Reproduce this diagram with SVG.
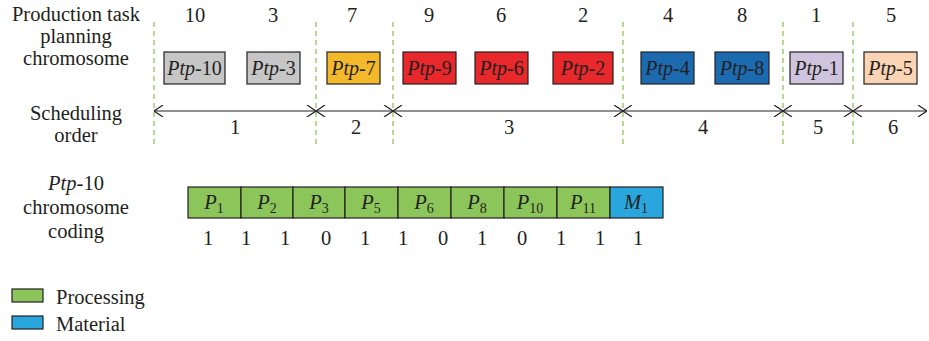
<svg xmlns="http://www.w3.org/2000/svg" width="929" height="341" viewBox="0 0 929 341">
<defs>
<style>
text{font-family:"Liberation Serif","DejaVu Serif",serif;font-size:20.5px;fill:#231f20;text-anchor:middle}
.it{font-style:italic}
.bx{font-size:20px}
.sub{font-size:14px}
.box{stroke:#231f20;stroke-width:1.2}
.cell{stroke:#231f20;stroke-width:1.2}
.dash{stroke:#8cc65a;stroke-width:1.3;stroke-dasharray:5,4;fill:none}
.arr{stroke:#231f20;stroke-width:1.2;fill:none;marker-start:url(#ah);marker-end:url(#ah)}
</style>
<marker id="ah" viewBox="0 0 10 12" refX="10" refY="6" markerWidth="10" markerHeight="12" markerUnits="userSpaceOnUse" orient="auto-start-reverse">
<path d="M1,0 L10,6 L1,12" fill="none" stroke="#231f20" stroke-width="1.2"/>
</marker>
</defs>
<g id="labels">
<text x="76" y="21">Production task</text>
<text x="76" y="43">planning</text>
<text x="76" y="65">chromosome</text>
<text x="76" y="120">Scheduling</text>
<text x="76" y="142">order</text>
<text x="76" y="190"><tspan class="it">Ptp</tspan>-10</text>
<text x="76" y="214">chromosome</text>
<text x="76" y="238">coding</text>
</g>
<g id="dividers">
<line class="dash" x1="154" y1="22" x2="154" y2="146"/>
<line class="dash" x1="316" y1="22" x2="316" y2="146"/>
<line class="dash" x1="393" y1="22" x2="393" y2="146"/>
<line class="dash" x1="623" y1="22" x2="623" y2="146"/>
<line class="dash" x1="783" y1="22" x2="783" y2="146"/>
<line class="dash" x1="853" y1="22" x2="853" y2="146"/>
</g>
<g id="top-numbers">
<text x="195" y="22">10</text>
<text x="273" y="22">3</text>
<text x="352" y="22">7</text>
<text x="429" y="22">9</text>
<text x="501" y="22">6</text>
<text x="583" y="22">2</text>
<text x="668" y="22">4</text>
<text x="742" y="22">8</text>
<text x="816" y="22">1</text>
<text x="891" y="22">5</text>
</g>
<g id="ptp10"><rect class="box" x="164" y="52" width="61" height="32" fill="#c6c6c6"/><text class="bx" x="194.5" y="75"><tspan class="it">Ptp</tspan>-10</text></g>
<g id="ptp3"><rect class="box" x="247" y="52" width="53" height="32" fill="#c6c6c6"/><text class="bx" x="273.5" y="75"><tspan class="it">Ptp</tspan>-3</text></g>
<g id="ptp7"><rect class="box" x="327" y="52" width="53" height="32" fill="#f4b92b"/><text class="bx" x="353.5" y="75"><tspan class="it">Ptp</tspan>-7</text></g>
<g id="ptp9"><rect class="box" x="403" y="52" width="53" height="32" fill="#e8282b"/><text class="bx" x="429.5" y="75"><tspan class="it">Ptp</tspan>-9</text></g>
<g id="ptp6"><rect class="box" x="475" y="52" width="53" height="32" fill="#e8282b"/><text class="bx" x="501.5" y="75"><tspan class="it">Ptp</tspan>-6</text></g>
<g id="ptp2"><rect class="box" x="553" y="52" width="60" height="32" fill="#e8282b"/><text class="bx" x="583" y="75"><tspan class="it">Ptp</tspan>-2</text></g>
<g id="ptp4"><rect class="box" x="641" y="52" width="53" height="32" fill="#1c6bb0"/><text class="bx" x="667.5" y="75"><tspan class="it">Ptp</tspan>-4</text></g>
<g id="ptp8"><rect class="box" x="715" y="52" width="54" height="32" fill="#1c6bb0"/><text class="bx" x="742" y="75"><tspan class="it">Ptp</tspan>-8</text></g>
<g id="ptp1"><rect class="box" x="790" y="52" width="53" height="32" fill="#cfc4dd"/><text class="bx" x="816.5" y="75"><tspan class="it">Ptp</tspan>-1</text></g>
<g id="ptp5"><rect class="box" x="864" y="52" width="53" height="32" fill="#fbd3b5"/><text class="bx" x="890.5" y="75"><tspan class="it">Ptp</tspan>-5</text></g>
<g id="connectors">
<line class="arr" x1="154" y1="111" x2="316" y2="111"/>
<line class="arr" x1="316" y1="111" x2="393" y2="111"/>
<line class="arr" x1="393" y1="111" x2="623" y2="111"/>
<line class="arr" x1="623" y1="111" x2="783" y2="111"/>
<line class="arr" x1="783" y1="111" x2="853" y2="111"/>
<line class="arr" x1="853" y1="111" x2="927" y2="111"/>
</g>
<g id="order-numbers">
<text x="235" y="134">1</text>
<text x="356" y="134">2</text>
<text x="509" y="134">3</text>
<text x="703" y="134">4</text>
<text x="818" y="134">5</text>
<text x="893" y="134">6</text>
</g>
<g id="chromosome">
<rect class="cell" x="188" y="187" width="53" height="31" fill="#8cc65a"/>
<rect class="cell" x="241" y="187" width="52" height="31" fill="#8cc65a"/>
<rect class="cell" x="293" y="187" width="52" height="31" fill="#8cc65a"/>
<rect class="cell" x="345" y="187" width="53" height="31" fill="#8cc65a"/>
<rect class="cell" x="398" y="187" width="53" height="31" fill="#8cc65a"/>
<rect class="cell" x="451" y="187" width="53" height="31" fill="#8cc65a"/>
<rect class="cell" x="504" y="187" width="53" height="31" fill="#8cc65a"/>
<rect class="cell" x="557" y="187" width="53" height="31" fill="#8cc65a"/>
<rect class="cell" x="610" y="187" width="53" height="31" fill="#29a6dd"/>
<text x="214" y="209"><tspan class="it">P</tspan><tspan class="sub" dy="4">1</tspan></text>
<text x="267" y="209"><tspan class="it">P</tspan><tspan class="sub" dy="4">2</tspan></text>
<text x="319" y="209"><tspan class="it">P</tspan><tspan class="sub" dy="4">3</tspan></text>
<text x="371" y="209"><tspan class="it">P</tspan><tspan class="sub" dy="4">5</tspan></text>
<text x="424" y="209"><tspan class="it">P</tspan><tspan class="sub" dy="4">6</tspan></text>
<text x="477" y="209"><tspan class="it">P</tspan><tspan class="sub" dy="4">8</tspan></text>
<text x="530" y="209"><tspan class="it">P</tspan><tspan class="sub" dy="4">10</tspan></text>
<text x="583" y="209"><tspan class="it">P</tspan><tspan class="sub" dy="4">11</tspan></text>
<text x="636" y="209"><tspan class="it">M</tspan><tspan class="sub" dy="4">1</tspan></text>
</g>
<g id="bits">
<text x="208" y="245">1</text>
<text x="246" y="245">1</text>
<text x="285" y="245">1</text>
<text x="326" y="245">0</text>
<text x="365" y="245">1</text>
<text x="403" y="245">1</text>
<text x="443" y="245">0</text>
<text x="482" y="245">1</text>
<text x="522" y="245">0</text>
<text x="561" y="245">1</text>
<text x="600" y="245">1</text>
<text x="638" y="245">1</text>
</g>
<g id="legend">
<rect class="box" x="12" y="289" width="31" height="13" fill="#8cc65a"/>
<rect class="box" x="12" y="316" width="31" height="13" fill="#29a6dd"/>
<text x="56" y="304" style="text-anchor:start">Processing</text>
<text x="56" y="331" style="text-anchor:start">Material</text>
</g>
</svg>
